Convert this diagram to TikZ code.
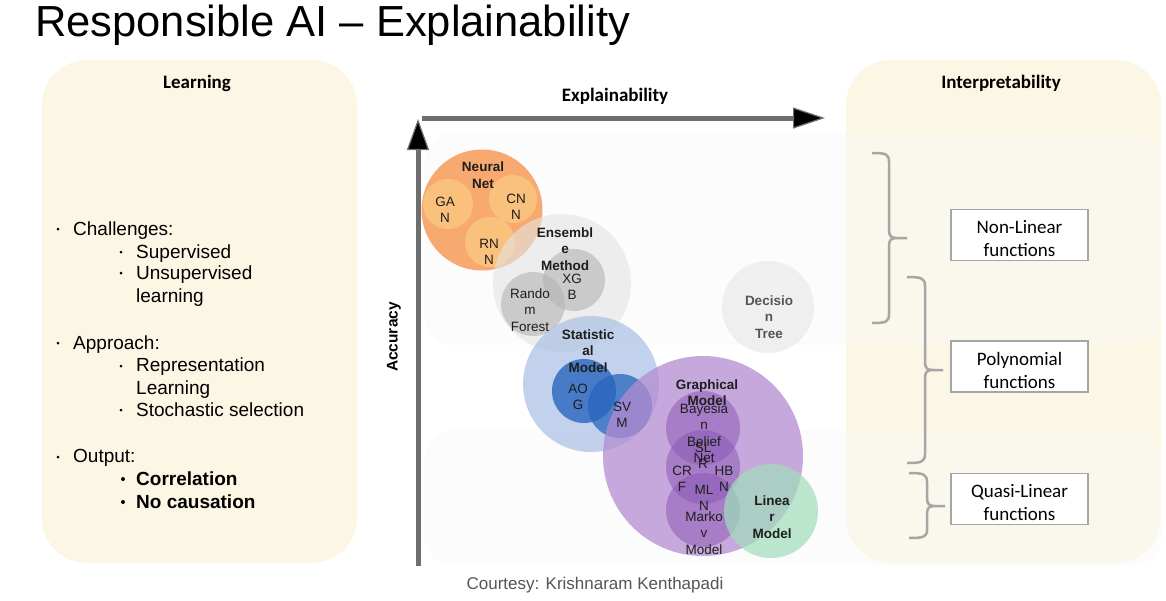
\documentclass[tikz,border=0pt]{standalone}
\usepackage{fontspec}
\setmainfont{Liberation Sans}
\newfontfamily\calfont{Carlito}
\usetikzlibrary{arrows.meta}

\definecolor{panelc}{RGB}{252,246,228}
\definecolor{bandc}{RGB}{249,249,249}
\definecolor{axisc}{RGB}{110,110,110}
\definecolor{bracec}{RGB}{166,166,166}
\definecolor{txtc}{RGB}{30,30,30}
\definecolor{dtc}{RGB}{85,85,85}
\definecolor{nnc}{RGB}{247,165,105}
\definecolor{nnsub}{RGB}{251,198,128}
\definecolor{ensc}{RGB}{228,228,228}
\definecolor{ensub}{RGB}{180,180,180}
\definecolor{statc}{RGB}{170,192,228}
\definecolor{statsub}{RGB}{40,100,190}
\definecolor{graphc}{RGB}{180,140,210}
\definecolor{graphsub}{RGB}{140,90,180}
\definecolor{linc}{RGB}{160,222,186}
\definecolor{dtreec}{RGB}{239,239,239}

\begin{document}
\begin{tikzpicture}[x=1pt,y=-1pt,
  blob/.style={circle, inner sep=0pt, minimum size=#1},
  lbl/.style={align=center, text=txtc, inner sep=0pt, font=\fontsize{13.5}{16.5}\selectfont},
  blbl/.style={align=center, text=txtc, inner sep=0pt, font=\fontsize{13.5}{16.5}\selectfont\bfseries},
  head/.style={font=\calfont\fontsize{19}{22}\selectfont\bfseries},
  item/.style={anchor=base west, inner sep=0pt, font=\fontsize{19}{23}\selectfont},
  dot/.style={circle, fill=black, inner sep=0pt, minimum size=#1},
  fnbox/.style={draw=bracec, line width=1.5pt, fill=white, minimum width=137pt, minimum height=51pt},
  fntext/.style={align=center, inner sep=0pt, font=\calfont\fontsize{19}{23}\selectfont},
  brace/.style={draw=bracec, line width=2.5pt},
  axis/.style={draw=axisc, line width=5pt}]

\useasboundingbox (0,0) rectangle (1166,600);
\fill[white] (0,0) rectangle (1166,600);

% Title
\node[anchor=west, inner sep=0pt, font=\fontsize{43.5}{48}\selectfont] (title) at (35,25) {Responsible AI -- Explainability};

% Side panels
\fill[panelc, rounded corners=45pt] (42,60) rectangle (357,563);
\fill[panelc, rounded corners=45pt] (846,60) rectangle (1161,563);

% faint bands
\fill[bandc, fill opacity=0.4, rounded corners=28pt] (425,133) rectangle (1161,345);
\fill[bandc, fill opacity=0.4, rounded corners=28pt] (425,430) rectangle (1161,565);

% Learning panel
\node[head] (learn) at (197,83) {Learning};

\node[dot=3pt] (bu1) at (58,229) {};
\node[item] (chal) at (73,235) {Challenges:};
\node[dot=3pt] (bu2) at (121,252) {};
\node[item] (sup) at (136,258) {Supervised};
\node[dot=3pt] (bu3) at (121,273) {};
\node[item] (unsup) at (136,279) {Unsupervised};
\node[item] (lrn) at (136,302) {learning};

\node[dot=3pt] (bu4) at (58,343) {};
\node[item] (appr) at (73,349) {Approach:};
\node[dot=3pt] (bu5) at (121,366) {};
\node[item] (repr) at (136,371) {Representation};
\node[item] (lrn2) at (136,394) {Learning};
\node[dot=3pt] (bu6) at (121,410) {};
\node[item] (stoch) at (136,416) {Stochastic selection};

\node[dot=3pt] (bu7) at (58,457) {};
\node[item] (outp) at (73,462) {Output:};
\node[dot=4pt] (bu8) at (123,479) {};
\node[item, font=\fontsize{19}{23}\selectfont\bfseries] (corr) at (136,485) {Correlation};
\node[dot=4pt] (bu9) at (123,502) {};
\node[item, font=\fontsize{19}{23}\selectfont\bfseries] (nocaus) at (136,508) {No causation};

% Axes
\coordinate (origin) at (418,566);
\coordinate (ytop) at (418,119);
\coordinate (xstart) at (422,118);
\coordinate (xend) at (825,118);
\draw[axis, -{Triangle[length=31pt, width=22pt, line width=1.2pt, fill=black]}] (origin) -- (ytop);
\draw[axis, -{Triangle[length=32pt, width=21pt, line width=1.2pt, fill=black]}] (xstart) -- (xend);
\node[head] (xlab) at (615,96.5) {Explainability};
\node[rotate=90, font=\fontsize{15.5}{18}\selectfont\bfseries] (ylab) at (394,337) {Accuracy};

% Circles
\node[blob=92pt, fill=dtreec] (dtree) at (768,307) {};

\node[blob=121pt, fill=nnc, fill opacity=0.95] (nn) at (482,210) {};
\node[blob=50pt, fill=nnsub, fill opacity=0.85] (gan) at (448,204) {};
\node[blob=48pt, fill=nnsub, fill opacity=0.85] (cnn) at (513,199) {};
\node[blob=50pt, fill=nnsub, fill opacity=0.85] (rnn) at (490,242) {};

\node[blob=138pt, fill=ensc, fill opacity=0.6] (ens) at (562,283) {};
\node[blob=62pt, fill=ensub, fill opacity=0.6] (xgb) at (574,280) {};
\node[blob=64pt, fill=ensub, fill opacity=0.6] (rf) at (533,304) {};

\node[blob=136pt, fill=statc, fill opacity=0.7] (stat) at (591,384) {};
\node[blob=64pt, fill=statsub, fill opacity=0.8] (aog) at (584,391) {};
\node[blob=64pt, fill=statsub, fill opacity=0.75] (svm) at (620,406) {};

\node[blob=200pt, fill=graphc, fill opacity=0.75] (graph) at (703,456) {};
\node[blob=74pt, fill=graphsub, fill opacity=0.55] (bayes) at (703,428) {};
\node[blob=74pt, fill=graphsub, fill opacity=0.55] (slr) at (703,467) {};
\node[blob=74pt, fill=graphsub, fill opacity=0.55] (markov) at (703,510) {};

\node[blob=94pt, fill=linc, fill opacity=0.7] (lin) at (771,511) {};

% Circle labels
\node[blbl, text=dtc] (dtreeT) at (769,317) {Decisio\\n\\Tree};
\node[blbl] (nnT) at (483,175) {Neural\\Net};
\node[lbl] (ganT) at (445,210) {GA\\N};
\node[lbl] (cnnT) at (516,207) {CN\\N};
\node[lbl] (rnnT) at (489,252) {RN\\N};
\node[blbl] (ensT) at (565,249) {Ensembl\\e\\Method};
\node[lbl] (xgbT) at (572,287) {XG\\B};
\node[lbl] (rfT) at (530,310) {Rando\\m\\Forest};
\node[blbl] (statT) at (588,351) {Statistic\\al\\Model};
\node[lbl] (aogT) at (578,397) {AO\\G};
\node[lbl] (svmT) at (622,415) {SV\\M};
\node[blbl] (graphT) at (707,392.5) {Graphical\\Model};
\node[lbl] (bayesT) at (704,433) {Bayesia\\n\\Belief\\Net};
\node[lbl] (slrT) at (703,456) {SL\\R};
\node[lbl] (crfT) at (682,479) {CR\\F};
\node[lbl] (hbnT) at (724,479) {HB\\N};
\node[lbl] (mlnT) at (704,498) {ML\\N};
\node[lbl] (markovT) at (704,533) {Marko\\v\\Model};
\node[blbl] (linT) at (772,517) {Linea\\r\\Model};

% Interpretability panel
\node[head] (interp) at (1001,83) {Interpretability};
\node[fnbox] (nonlin) at (1019.5,235) {};
\node[fntext] (nonlinT) at ([yshift=-3.5pt]nonlin.center) {Non-Linear\\functions};
\node[fnbox] (poly) at (1019.5,366.5) {};
\node[fntext] (polyT) at ([yshift=-3.5pt]poly.center) {Polynomial\\functions};
\node[fnbox] (quasi) at (1019.5,499) {};
\node[fntext] (quasiT) at ([yshift=-3.5pt]quasi.center) {Quasi-Linear\\functions};

\draw[brace] (872,153) .. controls (886,153) and (889,154) .. (889,162) -- (889,230) .. controls (889,236) and (891,238) .. (897,238) -- (907,238)
  (897,238) .. controls (891,238) and (889,240) .. (889,246) -- (889,314) .. controls (889,322) and (886,323) .. (872,323);
\draw[brace] (907,277) .. controls (921,277) and (925,278) .. (925,286) -- (925,362) .. controls (925,368) and (927,370) .. (933,370) -- (943,370)
  (933,370) .. controls (927,370) and (925,372) .. (925,378) -- (925,454) .. controls (925,462) and (921,463) .. (907,463);
\draw[brace] (909,473) .. controls (923,473) and (927,474) .. (927,482) -- (927,498) .. controls (927,504) and (929,506) .. (935,506) -- (945,506)
  (935,506) .. controls (929,506) and (927,508) .. (927,514) -- (927,530) .. controls (927,537) and (923,538) .. (909,538);

% Credit
\node[text=dtc, font=\fontsize{17}{20}\selectfont] (credit) at (595,585) {Courtesy: Krishnaram Kenthapadi};
\end{tikzpicture}
\end{document}
